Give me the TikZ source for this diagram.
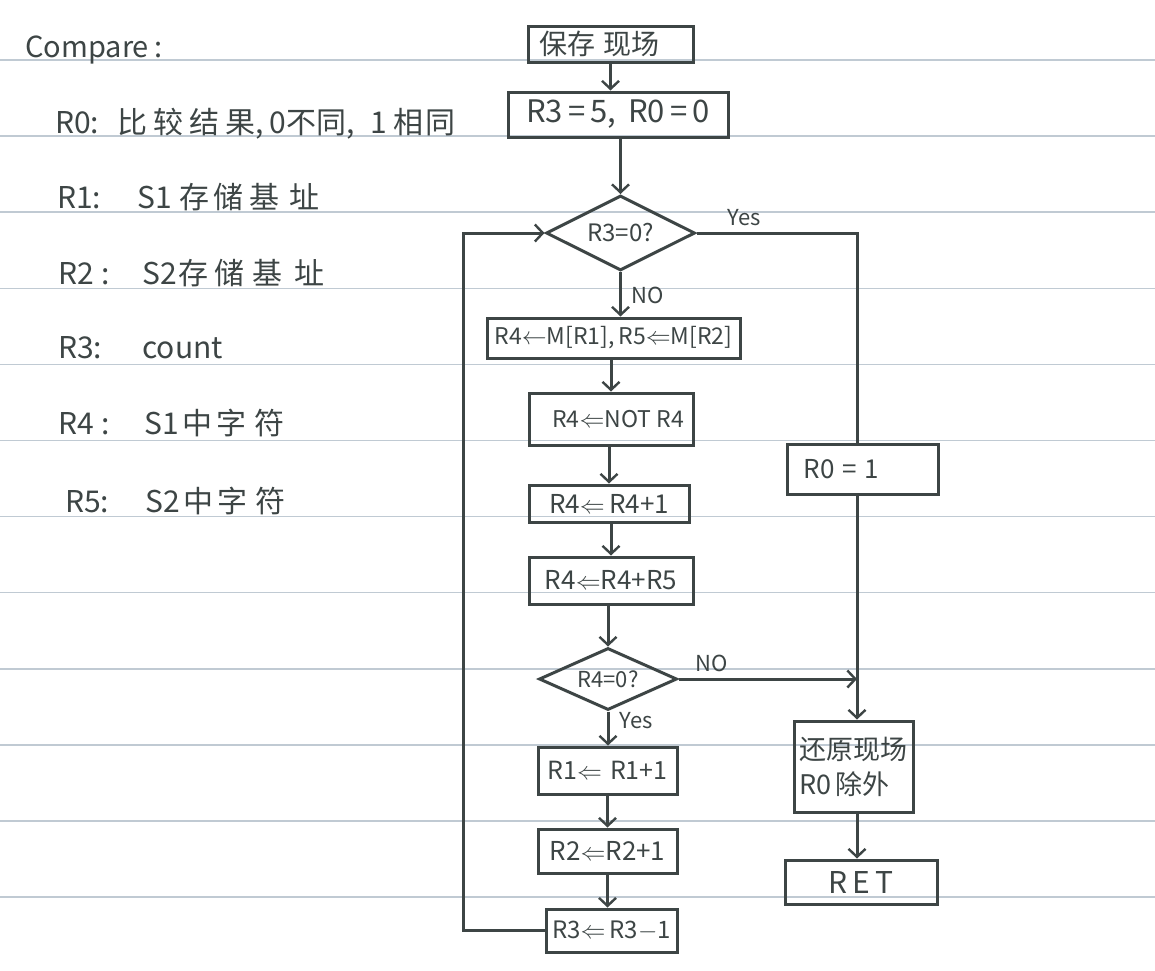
\documentclass[tikz,border=0pt]{standalone}
\usepackage{fontspec}
\setmainfont{Noto Sans CJK SC}
\usetikzlibrary{arrows.meta,shapes.geometric}
\definecolor{ink}{HTML}{3D4545}
\definecolor{rulec}{HTML}{C0CAD3}
\newcommand{\fsz}[1]{\fontsize{#1}{#1}\selectfont}
\begin{document}
\begin{tikzpicture}[x=1pt,y=-1pt,
  box/.style={draw=ink,line width=3pt,inner sep=0pt,text=ink,font=\fsz{24}},
  dia/.style={draw=ink,line width=3pt,diamond,shape aspect=2,inner sep=0pt,text=ink,font=\fsz{24}},
  txt/.style={text=ink,inner sep=0pt,anchor=base west,font=\fsz{30}},
  lbl/.style={text=ink,inner sep=0pt,font=\fsz{22}},
  con/.style={draw=ink,line width=3pt},
  arr/.style={draw=ink,line width=3pt,-{Straight Barb[length=8pt,width=17pt,line width=2.4pt]}}]
\useasboundingbox (0,0) rectangle (1155,970);
\fill[white] (0,0) rectangle (1155,970);
\foreach \k in {0,...,11} \draw[rulec,line width=1.5pt] (0,{60+76.1*\k}) -- (1155,{60+76.1*\k});

% legend
\node[txt,font=\fsz{29}] (t0) at (25,57) {Compare\hspace{6pt}:};
\node[txt] (t1) at (55,133) {R0:\hspace{18pt}比\kern6pt 较\kern6pt 结\kern6pt 果,\kern6pt 0不同,\kern16pt 1\kern6pt 相\kern2pt 同};
\node[txt] (t2) at (57,208) {R1:\hspace{36pt}S1\kern8pt 存\kern4pt 储\kern6pt 基\kern10pt 址};
\node[txt] (t3) at (58,284) {R2\hspace{8pt}:\hspace{32pt}S2\kern2pt 存\kern6pt 储\kern8pt 基\kern12pt 址};
\node[txt] (t4) at (58,358) {R3:\hspace{40pt}count};
\node[txt] (t5) at (58,434) {R4\hspace{8pt}:\hspace{34pt}S1\kern4pt 中\kern4pt 字\kern8pt 符};
\node[txt] (t6) at (65,512) {R5:\hspace{36pt}S2\kern4pt 中\kern4pt 字\kern8pt 符};

% main column
\node[box,minimum width=165pt,minimum height=36pt,font=\fsz{28}] (s1) at (610.5,44) {保存\kern8pt 现场\kern22pt};
\node[box,minimum width=220pt,minimum height=45pt,font=\fsz{31}] (s2) at (618,114.5) {R3\,=\,5,\hspace{12pt}R0\,=\,0};
\node[dia,minimum width=149pt,minimum height=75pt,font=\fsz{24}] (d1) at (620.5,233) {R3=0?};
\node[box,minimum width=253pt,minimum height=40pt,font=\fsz{23}] (s3) at (613.5,338) {R4$\leftarrow$M[R1],\,R5$\Leftarrow$M[R2]};
\node[box,minimum width=164pt,minimum height=52pt,font=\fsz{23}] (s4) at (611,419) {\kern14pt R4$\Leftarrow$NOT R4};
\node[box,minimum width=160pt,minimum height=37pt,font=\fsz{26}] (s5) at (609,503.5) {R4$\Leftarrow$\,R4+1};
\node[box,minimum width=164pt,minimum height=47pt,font=\fsz{26}] (s6) at (611,580.5) {R4$\Leftarrow$R4+R5};
\node[dia,minimum width=138pt,minimum height=62pt,font=\fsz{22}] (d2) at (608,679) {R4=0?};
\node[box,minimum width=139pt,minimum height=47pt,font=\fsz{25}] (s7) at (607.5,770.5) {R1$\Leftarrow$\kern8pt R1+1};
\node[box,minimum width=139pt,minimum height=44pt,font=\fsz{26}] (s8) at (607.5,851) {R2$\Leftarrow$R2+1};
\node[box,minimum width=131pt,minimum height=43pt,font=\fsz{24}] (s9) at (611.5,930.5) {R3$\Leftarrow$\,R3$-$1};

% right column
\node[box,minimum width=151pt,minimum height=50pt,font=\fsz{26}] (r1) at (862.5,469) {R0\kern8pt =\kern8pt 1\kern42pt};
\node[box,minimum width=119pt,minimum height=91pt,font=\fsz{27},align=left] (r2) at (853.5,766.5) {还原现场\\[8pt]R0\kern4pt 除外};
\node[box,minimum width=152pt,minimum height=44pt,font=\fsz{30}] (r3) at (861,882) {R\,E\,T};

\coordinate (rc) at (857,0);
\coordinate (lp) at (463,0);

% connectors
\draw[arr] (s1.south) -- (s1.south |- s2.north);
\draw[arr] (s2.south -| d1.north) -- (d1.north);
\draw[arr] (d1.south) -- (d1.south |- s3.north);
\draw[arr] (s4.north |- s3.south) -- (s4.north);
\draw[arr] (s5.north |- s4.south) -- (s5.north);
\draw[arr] (s6.north |- s5.south) -- (s6.north);
\draw[arr] (d2.north |- s6.south) -- (d2.north);
\draw[arr] (d2.south) -- (d2.south |- s7.north);
\draw[arr] (s7.south) -- (s7.south |- s8.north);
\draw[arr] (s8.south) -- (s8.south |- s9.north);
\draw[arr] (s9.west) -- (s9.west -| lp) -- (lp |- d1.west) -- (d1.west);
\draw[con] (d1.east) -- (d1.east -| rc) -- (rc |- r1.north);
\draw[arr] (rc |- r1.south) -- (rc |- r2.north);
\draw[arr] (d2.east) -- (d2.east -| rc);
\draw[arr] (r2.south -| rc) -- (rc |- r3.north);

% branch labels
\node[lbl] (y1) at (744,218) {Yes};
\node[lbl] (n1) at (648,295) {NO};
\node[lbl] (n2) at (712,663) {NO};
\node[lbl] (y2) at (636,721) {Yes};
\end{tikzpicture}
\end{document}
